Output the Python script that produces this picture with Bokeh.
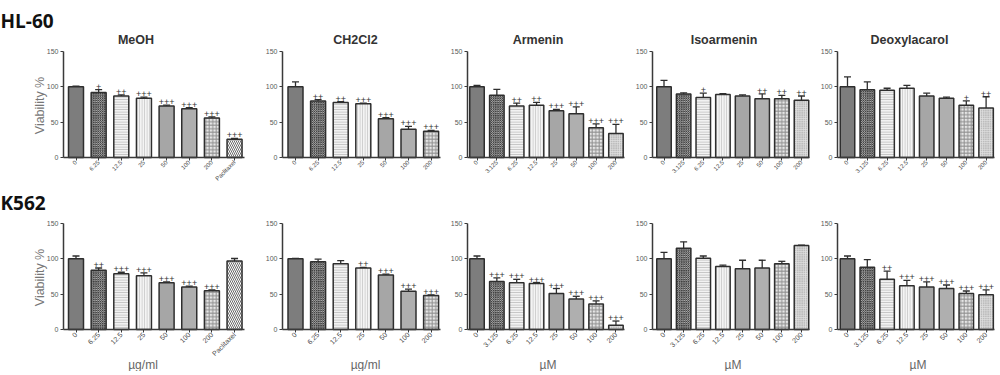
import math
from bokeh.plotting import figure
from bokeh.models import ColumnDataSource, FixedTicker, Range1d
from bokeh.layouts import row, column
from bokeh.embed import file_html
from bokeh.resources import INLINE
from bokeh.core.properties import value

# ---------------- data ----------------
ugml_labels = ["0", "6.25", "12.5", "25", "50", "100", "200", "Paclitaxel"]
ugml_labels_ch = ["0", "6.25", "12.5", "25", "50", "100", "200"]
um_labels = ["0", "3.125", "6.25", "12.5", "25", "50", "100", "200"]
titles = ["MeOH", "CH2Cl2", "Armenin", "Isoarmenin", "Deoxylacarol"]
x_units = ["µg/ml", "µg/ml", "µM", "µM", "µM"]
row_names = ["HL-60", "K562"]
y_title = "Viability %"

hl60_meoh = [100, 92, 87, 84, 73, 69, 56, 26]
hl60_meoh_err = [1, 4, 1.5, 1.5, 1, 1.5, 1.5, 1]
hl60_meoh_sig = ["", "+", "++", "+++", "+++", "+++", "+++", "+++"]

hl60_ch2cl2 = [100, 80, 78, 76, 55, 40, 37]
hl60_ch2cl2_err = [7, 2, 1, 1, 1.5, 4, 1.5]
hl60_ch2cl2_sig = ["", "++", "++", "+++", "+++", "+++", "+++"]

hl60_armenin = [100, 88, 73, 74, 66, 62, 42, 34]
hl60_armenin_err = [2, 8.5, 4, 4, 2, 9.5, 5.5, 13]
hl60_armenin_sig = ["", "", "++", "++", "+++", "+++", "+++", "+++"]

hl60_isoarmenin = [100, 90, 85, 89, 87, 83, 83, 81]
hl60_isoarmenin_err = [9, 1.5, 6, 1.5, 1.5, 7, 5, 6]
hl60_isoarmenin_sig = ["", "", "+", "", "", "++", "++", "++"]

hl60_deoxy = [100, 96, 95, 98, 87, 84, 74, 70]
hl60_deoxy_err = [14, 11, 3, 4, 4, 1.5, 6, 16]
hl60_deoxy_sig = ["", "", "", "", "", "", "+", "++"]

k562_meoh = [100, 84, 79, 76, 66, 60, 55, 97]
k562_meoh_err = [4, 3, 2, 4, 1.5, 1.5, 1, 3.5]
k562_meoh_sig = ["", "++", "+++", "+++", "+++", "+++", "+++", ""]

k562_ch2cl2 = [100, 96, 93, 87, 77, 54, 48]
k562_ch2cl2_err = [0.5, 3.5, 4.5, 1, 1.5, 3, 1]
k562_ch2cl2_sig = ["", "", "", "++", "+++", "+++", "+++"]

k562_armenin = [100, 68, 66, 65, 51, 43, 36, 6]
k562_armenin_err = [4, 5, 5, 1.5, 7, 4, 4.5, 6]
k562_armenin_sig = ["", "+++", "+++", "+++", "+++", "+++", "+++", "+++"]

k562_isoarmenin = [100, 115, 101, 89, 86, 87, 93, 119]
k562_isoarmenin_err = [9, 9, 3, 2, 12, 11, 3.5, 0.5]
k562_isoarmenin_sig = ["", "", "", "", "", "", "", ""]

k562_deoxy = [100, 88, 71, 62, 60, 58, 51, 49]
k562_deoxy_err = [4, 11, 11.5, 7.5, 7.5, 5, 3.5, 7]
k562_deoxy_sig = ["", "", "++", "+++", "+++", "+++", "+++", "+++"]

rows_data = [
    [(ugml_labels, hl60_meoh, hl60_meoh_err, hl60_meoh_sig),
     (ugml_labels_ch, hl60_ch2cl2, hl60_ch2cl2_err, hl60_ch2cl2_sig),
     (um_labels, hl60_armenin, hl60_armenin_err, hl60_armenin_sig),
     (um_labels, hl60_isoarmenin, hl60_isoarmenin_err, hl60_isoarmenin_sig),
     (um_labels, hl60_deoxy, hl60_deoxy_err, hl60_deoxy_sig)],
    [(ugml_labels, k562_meoh, k562_meoh_err, k562_meoh_sig),
     (ugml_labels_ch, k562_ch2cl2, k562_ch2cl2_err, k562_ch2cl2_sig),
     (um_labels, k562_armenin, k562_armenin_err, k562_armenin_sig),
     (um_labels, k562_isoarmenin, k562_isoarmenin_err, k562_isoarmenin_sig),
     (um_labels, k562_deoxy, k562_deoxy_err, k562_deoxy_sig)],
]

# ---------------- styles / layout ----------------
FONT = "Liberation Sans"
BAR_STYLES = [
    ("#7d7d7d", " ", "#7d7d7d", 3),
    ("#cfcfcf", "x", "#404040", 2.2),
    ("#f2f2f2", "-", "#bdbdbd", 2.5),
    ("#f4f4f4", "|", "#c8c8c8", 2.5),
    ("#a6a6a6", " ", "#a6a6a6", 3),
    ("#afafaf", " ", "#afafaf", 3),
    ("#e6e6e6", "+", "#8f8f8f", 3.5),
]
LAST_PAC = ("#ffffff", "\\", "#6a6a6a", 4)
LAST_UM = ("#bcbcbc", "+", "#e2e2e2", 2.2)

# horizontal geometry (page px; Bokeh's page template has no body margin)
COLS = [
    dict(B=(0, 258), L=63, c0=75.5, s=22.65, bar=15.0, tx=135.5, lx=142.5),
    dict(B=(258, 446), L=282, c0=295.0, s=22.6, bar=15.0, tx=355.0, lx=365.0),
    dict(B=(446, 632), L=467, c0=476.5, s=19.85, bar=14.5, tx=537.5, lx=547.5),
    dict(B=(632, 818), L=652, c0=663.5, s=19.64, bar=14.5, tx=723.5, lx=732.5),
    dict(B=(818, 998), L=837, c0=847.0, s=19.8, bar=14.5, tx=909.0, lx=917.5),
]
# vertical geometry (page px)
ROWS = [
    dict(top=0, bottom=188, ftop=51, fbot=157, tick_fs="6px"),
    dict(top=188, bottom=371, ftop=223, fbot=329, tick_fs="7px"),
]
YMAX = 150.0


def make_panel(ri, ci, labels, vals, errs, sigs):
    c = COLS[ci]
    r = ROWS[ri]
    n = len(vals)
    s = c["s"]
    x_axis0 = -(c["c0"] - c["L"]) / s
    ppu = (r["fbot"] - r["ftop"]) / YMAX

    def dx(px):
        return x_axis0 + (px - c["L"]) / s

    def dy(py):
        return YMAX - (py - r["ftop"]) / ppu

    p = figure(width=c["B"][1] - c["B"][0], height=r["bottom"] - r["top"],
               x_range=Range1d(dx(c["B"][0]), dx(c["B"][1])),
               y_range=Range1d(dy(r["bottom"]), dy(r["top"])),
               output_backend="svg", toolbar_location=None, tools="")
    p.min_border = 0
    p.min_border_left = 0
    p.min_border_right = 0
    p.min_border_top = 0
    p.min_border_bottom = 0
    p.outline_line_color = None
    p.grid.visible = False
    p.background_fill_color = "white"
    p.border_fill_color = "white"

    styles = BAR_STYLES[:min(n, 7)]
    if n == 8:
        styles = styles + [LAST_PAC if labels[-1] == "Paclitaxel" else LAST_UM]
    xs = list(range(n))
    tops = [v + e for v, e in zip(vals, errs)]
    half = 3.5 / s
    src = ColumnDataSource(dict(
        x=xs, top=vals, etop=tops, cl=[x - half for x in xs], cr=[x + half for x in xs],
        sig=sigs,
        fill=[st[0] for st in styles], hatch=[st[1] for st in styles],
        hcol=[st[2] for st in styles], hscale=[st[3] for st in styles]))

    p.segment(x0="x", y0="top", x1="x", y1="etop", source=src,
              line_color="#2e2e2e", line_width=1.3)
    p.segment(x0="cl", y0="etop", x1="cr", y1="etop", source=src,
              line_color="#2e2e2e", line_width=1.3)
    p.vbar(x="x", top="top", bottom=0, width=c["bar"] / s, source=src,
           fill_color="fill", hatch_pattern="hatch", hatch_color="hcol",
           hatch_scale="hscale", hatch_weight=1,
           line_color="#2e2e2e", line_width=1.5)
    p.text(x="x", y="etop", text="sig", source=src, text_align="center",
           text_baseline="bottom", text_font=value(FONT),
           text_font_size="9px", text_color="#333333")

    # axes (drawn at fixed data locations inside the full-canvas frame)
    xa = p.xaxis[0]
    xa.fixed_location = 0
    xa.ticker = FixedTicker(ticks=xs)
    xa.major_label_overrides = {i: lab for i, lab in enumerate(labels)}
    xa.bounds = (x_axis0, n - 1 + 0.42)
    xa.major_label_orientation = math.pi / 4
    xa.major_label_text_font = FONT
    xa.major_label_text_font_size = r["tick_fs"]
    xa.major_label_text_color = "#4a4a4a"
    xa.major_label_standoff = 1
    xa.axis_line_color = "#3a3a3a"
    xa.axis_line_width = 1.5
    xa.major_tick_line_color = "#3a3a3a"
    xa.major_tick_out = 3
    xa.major_tick_in = 0
    xa.minor_tick_line_color = None

    ya = p.yaxis[0]
    ya.fixed_location = x_axis0
    ya.ticker = FixedTicker(ticks=[0, 50, 100, 150])
    ya.bounds = (0, YMAX)
    ya.major_label_text_font = FONT
    ya.major_label_text_font_size = "7px"
    ya.major_label_text_color = "#5a5a5a"
    ya.major_label_standoff = 2
    ya.axis_line_color = "#3a3a3a"
    ya.axis_line_width = 1.5
    ya.major_tick_line_color = "#3a3a3a"
    ya.major_tick_out = 3
    ya.major_tick_in = 0
    ya.minor_tick_line_color = None

    # texts
    if ri == 0:
        p.text(x=[dx(c["tx"])], y=[dy(39)], text=[titles[ci]],
               text_align="center", text_baseline="alphabetic",
               text_font=value(FONT), text_font_style="bold",
               text_font_size="12.5px", text_color="#333333")
    else:
        p.text(x=[dx(c["lx"])], y=[dy(364)], text=[x_units[ci]],
               text_align="center", text_baseline="alphabetic",
               text_font=value(FONT), text_font_size="12px",
               text_color="#666666")
    if ci == 0:
        base = 20 if ri == 0 else 202
        p.text(x=[dx(0)], y=[dy(base)], text=[row_names[ri]],
               text_align="left", text_baseline="alphabetic",
               text_font=value("Open Sans"), text_font_style="bold",
               text_font_size="19px", text_color="#111111")
        p.text(x=[dx(39)], y=[dy(r["ftop"] + 54)], text=[y_title],
               angle=math.pi / 2, text_align="center", text_baseline="middle",
               text_font=value(FONT), text_font_size="12.5px",
               text_color="#777777")
    return p


rows = []
for ri, rdata in enumerate(rows_data):
    figs = [make_panel(ri, ci, *d) for ci, d in enumerate(rdata)]
    rows.append(row(*figs))

layout = column(*rows)
open("out.html", "w").write(file_html(layout, INLINE, title="Viability"))
